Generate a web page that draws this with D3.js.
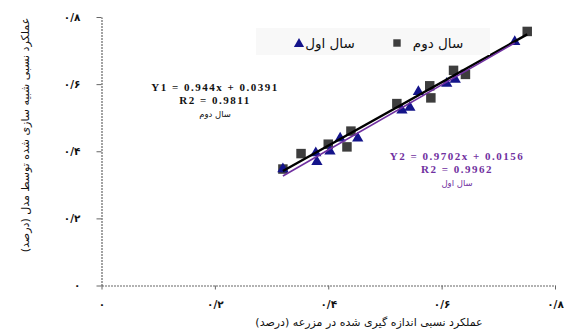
<!DOCTYPE html>
<html>
<head>
<meta charset="utf-8">
<script src="https://cdn.jsdelivr.net/npm/d3@7"></script>
<style>
  html, body { margin: 0; padding: 0; background: #fff; }
  svg { display: block; }
</style>
</head>
<body>
<svg id="chart" width="564" height="332"></svg>
<script>
// Relative yield: measured in field (x) vs simulated by model (y)
const year1X = [0.320, 0.378, 0.380, 0.403, 0.421, 0.452, 0.530, 0.544, 0.559, 0.609, 0.624, 0.729];
const year1Y = [0.347, 0.395, 0.369, 0.400, 0.439, 0.439, 0.522, 0.530, 0.577, 0.602, 0.614, 0.726];
const year2X = [0.320, 0.352, 0.400, 0.433, 0.440, 0.521, 0.579, 0.581, 0.621, 0.642, 0.751];
const year2Y = [0.347, 0.393, 0.421, 0.413, 0.460, 0.542, 0.595, 0.559, 0.641, 0.629, 0.757];

// Fitted trend lines (slope, intercept)
const fit1 = { slope: 0.9702, intercept: 0.0156 }; // سال اول
const fit2 = { slope: 0.944, intercept: 0.0391 };  // سال دوم

const tickValues = [0, 0.2, 0.4, 0.6, 0.8];
const tickLabels = ["۰", "۰/۲", "۰/۴", "۰/۶", "۰/۸"];

const seriesNames = ["سال اول", "سال دوم"];
const xTitle = "عملکرد نسبی اندازه گیری شده در مزرعه (درصد)";
const yTitle = "عملکرد نسبی شبیه سازی شده توسط مدل (درصد)";

const faFont = "'DejaVu Sans', 'Noto Sans', sans-serif";
const eqFont = "'Liberation Serif', 'Times New Roman', serif";

const svg = d3.select("#chart");

const x = d3.scaleLinear().domain([0, 0.8]).range([101.5, 555]);
const y = d3.scaleLinear().domain([0, 0.8]).range([285.5, 17]);

const labelOf = v => tickLabels[tickValues.findIndex(t => Math.abs(t - v) < 1e-9)];

// Axes
const xAxis = svg.append("g")
  .attr("transform", `translate(0,${y(0)})`)
  .call(d3.axisBottom(x).tickValues(tickValues).tickSize(4).tickSizeOuter(0).tickFormat(labelOf));
const yAxis = svg.append("g")
  .attr("transform", `translate(${x(0)},0)`)
  .call(d3.axisLeft(y).tickValues(tickValues).tickSize(5).tickSizeOuter(0).tickFormat(labelOf));

[xAxis, yAxis].forEach(g => {
  g.select(".domain").attr("stroke", "#666").attr("stroke-width", 1.2).attr("stroke-dasharray", "2,1");
  g.selectAll(".tick line").attr("stroke", "#666");
  g.selectAll(".tick text")
    .attr("fill", "#111")
    .style("font-family", faFont)
    .style("font-size", "10.5px")
    .style("font-weight", "bold");
});
xAxis.selectAll(".tick text").attr("y", 15);
yAxis.selectAll(".tick text").attr("x", -21);

// Axis titles
svg.append("text")
  .attr("x", 369).attr("y", 326)
  .attr("text-anchor", "middle")
  .style("font-family", faFont).style("font-size", "11px")
  .attr("fill", "#111")
  .text(xTitle);
svg.append("text")
  .attr("transform", "translate(29,135) rotate(-90)")
  .attr("text-anchor", "middle")
  .style("font-family", faFont).style("font-size", "11px")
  .attr("fill", "#111")
  .text(yTitle);

const sqColor = "#3d3d3d";
const triColor = "#14148a";
const line1Color = "#7030a0";
const line2Color = "#000";

// Year 2 squares
const sq = d3.symbol().type(d3.symbolSquare).size(90);
svg.append("g").selectAll("path")
  .data(year2X.map((v, i) => [v, year2Y[i]]))
  .join("path")
  .attr("d", sq)
  .attr("transform", d => `translate(${x(d[0])},${y(d[1])})`)
  .attr("fill", sqColor);

// Year 1 triangles
const tri = d3.symbol().type(d3.symbolTriangle).size(55);
svg.append("g").selectAll("path")
  .data(year1X.map((v, i) => [v, year1Y[i]]))
  .join("path")
  .attr("d", tri)
  .attr("transform", d => `translate(${x(d[0])},${y(d[1])})`)
  .attr("fill", triColor);

// Trend lines across each series' x range
function trend(xs, fit) {
  const ext = d3.extent(xs);
  return ext.map(v => [v, fit.slope * v + fit.intercept]);
}
const lineGen = d3.line().x(d => x(d[0])).y(d => y(d[1]));
svg.append("path")
  .attr("d", lineGen(trend(year2X, fit2)))
  .attr("stroke", line2Color).attr("stroke-width", 2.5).attr("fill", "none");
svg.append("path")
  .attr("d", lineGen(trend(year1X, fit1)))
  .attr("stroke", line1Color).attr("stroke-width", 1.6).attr("fill", "none");

// Equation labels
function equation(cx, top, color, lines, name) {
  const g = svg.append("g").attr("fill", color);
  lines.forEach((t, i) => {
    g.append("text").attr("x", cx).attr("y", top + i * 12.8).attr("text-anchor", "middle")
      .style("font-family", eqFont).style("font-size", "11px").style("font-weight", "bold")
      .style("letter-spacing", "1.5px")
      .text(t);
  });
  g.append("text").attr("x", cx).attr("y", top + lines.length * 12.8 + 0.5).attr("text-anchor", "middle")
    .style("font-family", faFont).style("font-size", "8.5px")
    .text(name);
}
equation(215, 91, "#111", ["Y1 = 0.944x + 0.0391", "R2 = 0.9811"], seriesNames[1]);
equation(457, 160, line1Color, ["Y2 = 0.9702x + 0.0156", "R2 = 0.9962"], seriesNames[0]);

// Legend
const legend = svg.append("g");
legend.append("rect").attr("x", 256).attr("y", 28).attr("width", 234).attr("height", 27)
  .attr("fill", "#f8f8f8");
legend.append("path").attr("d", d3.symbol().type(d3.symbolTriangle).size(45))
  .attr("transform", "translate(299,44)").attr("fill", triColor);
legend.append("text").attr("x", 330).attr("y", 48).attr("text-anchor", "middle")
  .style("font-family", faFont).style("font-size", "13.5px").attr("fill", "#111")
  .text(seriesNames[0]);
legend.append("path").attr("d", d3.symbol().type(d3.symbolSquare).size(55))
  .attr("transform", "translate(397,43)").attr("fill", sqColor);
legend.append("text").attr("x", 438).attr("y", 48).attr("text-anchor", "middle")
  .style("font-family", faFont).style("font-size", "13.5px").attr("fill", "#111")
  .text(seriesNames[1]);
</script>
</body>
</html>
